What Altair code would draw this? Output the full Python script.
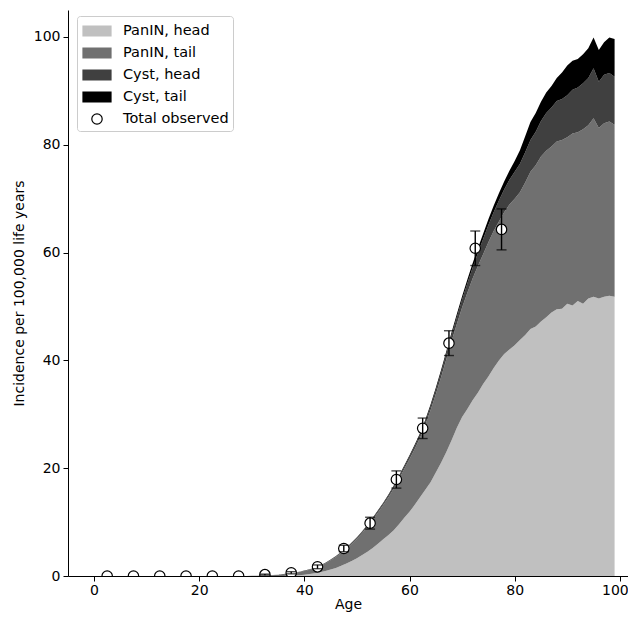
import altair as alt
import pandas as pd

FONT = "DejaVu Sans"

ages = list(range(100))

panin_head = [0] * 30 + [
    0, 0, 0, 0, 0, 0, 0.02, 0.05, 0.1, 0.15,
    0.25, 0.35, 0.5, 0.7, 0.95, 1.2, 1.5, 1.9, 2.3, 2.8,
    3.3, 3.9, 4.5, 5.2, 6.0, 6.8, 7.6, 8.5, 9.6, 10.8,
    11.9, 13.2, 14.6, 16.0, 17.4, 19.2, 21.0, 23.0, 25.2, 27.5,
    29.5, 31.0, 32.6, 34.0, 35.6, 37.0, 38.6, 40.0, 41.2, 42.0,
    42.8, 43.8, 44.7, 45.8, 46.3, 47.2, 48.0, 48.9, 49.5, 49.6,
    50.5, 50.2, 51.0, 50.5, 51.5, 51.8, 51.5, 51.8, 52.0, 51.8,
]
panin_tail = [0] * 30 + [
    0.03, 0.05, 0.07, 0.10, 0.16, 0.22, 0.30, 0.38, 0.47, 0.59,
    0.68, 0.82, 0.96, 1.15, 1.38, 1.70, 2.04, 2.36, 2.78, 3.15,
    3.6, 4.07, 4.64, 5.21, 5.78, 6.35, 7.0, 7.75, 8.4, 9.05,
    9.8, 10.42, 11.03, 12.04, 13.33, 14.5, 15.87, 17.23, 18.4, 19.25,
    20.3, 21.55, 22.6, 23.5, 24.1, 24.9, 25.4, 25.75, 26.3, 26.9,
    27.2, 27.4, 28.3, 29.2, 29.9, 30.6, 30.9, 30.8, 31.1, 31.3,
    30.9, 31.9, 31.3, 32.4, 32.1, 33.1, 31.6, 32.2, 32.3, 31.9,
]
cyst_head = [0] * 30 + [
    0, 0, 0.01, 0.01, 0.01, 0.02, 0.02, 0.03, 0.03, 0.04,
    0.05, 0.05, 0.06, 0.07, 0.08, 0.1, 0.11, 0.13, 0.15, 0.17,
    0.2, 0.22, 0.24, 0.26, 0.28, 0.3, 0.33, 0.36, 0.39, 0.42,
    0.45, 0.5, 0.56, 0.62, 0.7, 0.8, 0.9, 1.0, 1.1, 1.3,
    1.5, 1.75, 2.0, 2.4, 2.8, 3.2, 3.5, 3.9, 4.2, 4.6,
    5.0, 5.3, 5.6, 5.9, 6.2, 6.6, 7.0, 7.2, 7.5, 7.6,
    7.8, 8.1, 8.3, 8.5, 8.8, 9.3, 8.6, 9.0, 9.0, 8.9,
]
cyst_tail = [0] * 30 + [
    0, 0, 0, 0.01, 0.01, 0.01, 0.01, 0.01, 0.02, 0.02,
    0.02, 0.03, 0.03, 0.03, 0.04, 0.05, 0.05, 0.06, 0.07, 0.08,
    0.1, 0.11, 0.12, 0.13, 0.14, 0.15, 0.17, 0.19, 0.21, 0.23,
    0.25, 0.28, 0.31, 0.34, 0.37, 0.4, 0.43, 0.47, 0.5, 0.55,
    0.6, 0.7, 0.8, 0.9, 1.0, 1.1, 1.2, 1.35, 1.5, 1.7,
    2.0, 2.5, 3.0, 3.3, 3.5, 3.6, 3.8, 4.0, 4.3, 4.9,
    5.5, 5.4, 5.3, 5.4, 5.5, 5.7, 5.9, 6.0, 6.6, 7.0,
]

obs_age = [2.5, 7.5, 12.5, 17.5, 22.5, 27.5, 32.5, 37.5,
           42.5, 47.5, 52.5, 57.5, 62.5, 67.5, 72.5, 77.5]
obs_val = [0, 0, 0, 0, 0, 0, 0.25, 0.6,
           1.7, 5.1, 9.8, 17.9, 27.4, 43.2, 60.8, 64.3]
obs_err = [0, 0, 0, 0, 0, 0, 0.1, 0.2,
           0.35, 0.6, 1.1, 1.6, 1.9, 2.3, 3.2, 3.8]

series_names = ["PanIN, head", "PanIN, tail", "Cyst, head", "Cyst, tail"]
obs_name = "Total observed"
domain = series_names + [obs_name]
fills = ["#c0c0c0", "#707070", "#404040", "#000000", "#ffffff"]
strokes = ["#c0c0c0", "#707070", "#404040", "#000000", "#000000"]
RECT = "M-1.4,-0.5L1.4,-0.5L1.4,0.5L-1.4,0.5Z"
CIRC = "M-0.52,0A0.52,0.52,0,1,1,0.52,0A0.52,0.52,0,1,1,-0.52,0Z"
shapes = [RECT] * 4 + [CIRC]

rows = []
for k, (name, vals) in enumerate(zip(series_names,
                                     [panin_head, panin_tail, cyst_head, cyst_tail])):
    for a, v in zip(ages, vals):
        rows.append({"age": a, "series": name, "value": v, "k": k})
area_df = pd.DataFrame(rows)

obs_df = pd.DataFrame({"age": obs_age, "value": obs_val, "err": obs_err,
                       "series": [obs_name] * len(obs_age)})

legend = alt.Legend(
    title=None, orient="none", legendX=9, legendY=6,
    symbolSize=400, symbolStrokeWidth=1.2, symbolOpacity=1, symbolOffset=5,
    labelFont=FONT, labelFontSize=14.5, labelColor="black", labelOffset=15,
    labelLimit=300, rowPadding=3, padding=4,
    fillColor="rgba(255,255,255,0.8)", strokeColor="#cccccc", cornerRadius=3,
)

xscale = alt.Scale(domain=[-4.95, 101.55], nice=False, zero=False)
yscale = alt.Scale(domain=[0, 105], nice=False)

xaxis = alt.Axis(values=[0, 20, 40, 60, 80, 100], grid=False, tickSize=5,
                 labelFontSize=14, titleFontSize=14, titleFontWeight="normal",
                 labelPadding=2, titlePadding=0, domainColor="black",
                 tickColor="black", labelColor="black", titleColor="black",
                 labelFlush=False, title="Age",
                 labelOffset={"condition": {"test": "datum.value == 100", "value": -5},
                              "value": 0})
yaxis = alt.Axis(values=[0, 20, 40, 60, 80, 100], grid=False, tickSize=5,
                 labelFontSize=14, titleFontSize=14, titleFontWeight="normal",
                 labelPadding=3, titlePadding=7, domainColor="black",
                 tickColor="black", labelColor="black", titleColor="black",
                 title="Incidence per 100,000 life years")

fill_enc = alt.Fill("series:N", scale=alt.Scale(domain=domain, range=fills), legend=legend)

areas = alt.Chart(area_df).mark_area(opacity=1, interpolate="linear").encode(
    x=alt.X("age:Q", scale=xscale, axis=xaxis),
    y=alt.Y("value:Q", scale=yscale, axis=yaxis, stack="zero"),
    fill=fill_enc,
    order=alt.Order("k:Q", sort="ascending"),
)

points = alt.Chart(obs_df).mark_point(filled=True, size=400, opacity=1,
                                      strokeWidth=1.2, clip=True).encode(
    x=alt.X("age:Q", scale=xscale),
    y=alt.Y("value:Q", scale=yscale),
    fill=fill_enc,
    shape=alt.Shape("series:N", scale=alt.Scale(domain=domain, range=shapes), legend=legend),
    stroke=alt.Stroke("series:N", scale=alt.Scale(domain=domain, range=strokes), legend=legend),
)

err_base = alt.Chart(obs_df).transform_filter("datum.err > 0").transform_calculate(
    lo="datum.value - datum.err", hi="datum.value + datum.err")

rules = err_base.mark_rule(color="black", strokeWidth=1.4).encode(
    x=alt.X("age:Q", scale=xscale),
    y=alt.Y("lo:Q", scale=yscale),
    y2="hi:Q",
)
cap_lo = err_base.mark_tick(color="black", orient="horizontal", size=10,
                            thickness=1.4).encode(
    x=alt.X("age:Q", scale=xscale), y=alt.Y("lo:Q", scale=yscale))
cap_hi = err_base.mark_tick(color="black", orient="horizontal", size=10,
                            thickness=1.4).encode(
    x=alt.X("age:Q", scale=xscale), y=alt.Y("hi:Q", scale=yscale))

chart = alt.layer(areas, points, rules, cap_lo, cap_hi).properties(
    width=560, height=566,
    autosize=alt.AutoSizeParams(type="none"),
    padding={"left": 60, "top": 2, "right": 0, "bottom": 36},
).configure(font=FONT).configure_view(stroke="transparent")

chart.save("out.html", embed_options={"renderer": "svg", "actions": False})
